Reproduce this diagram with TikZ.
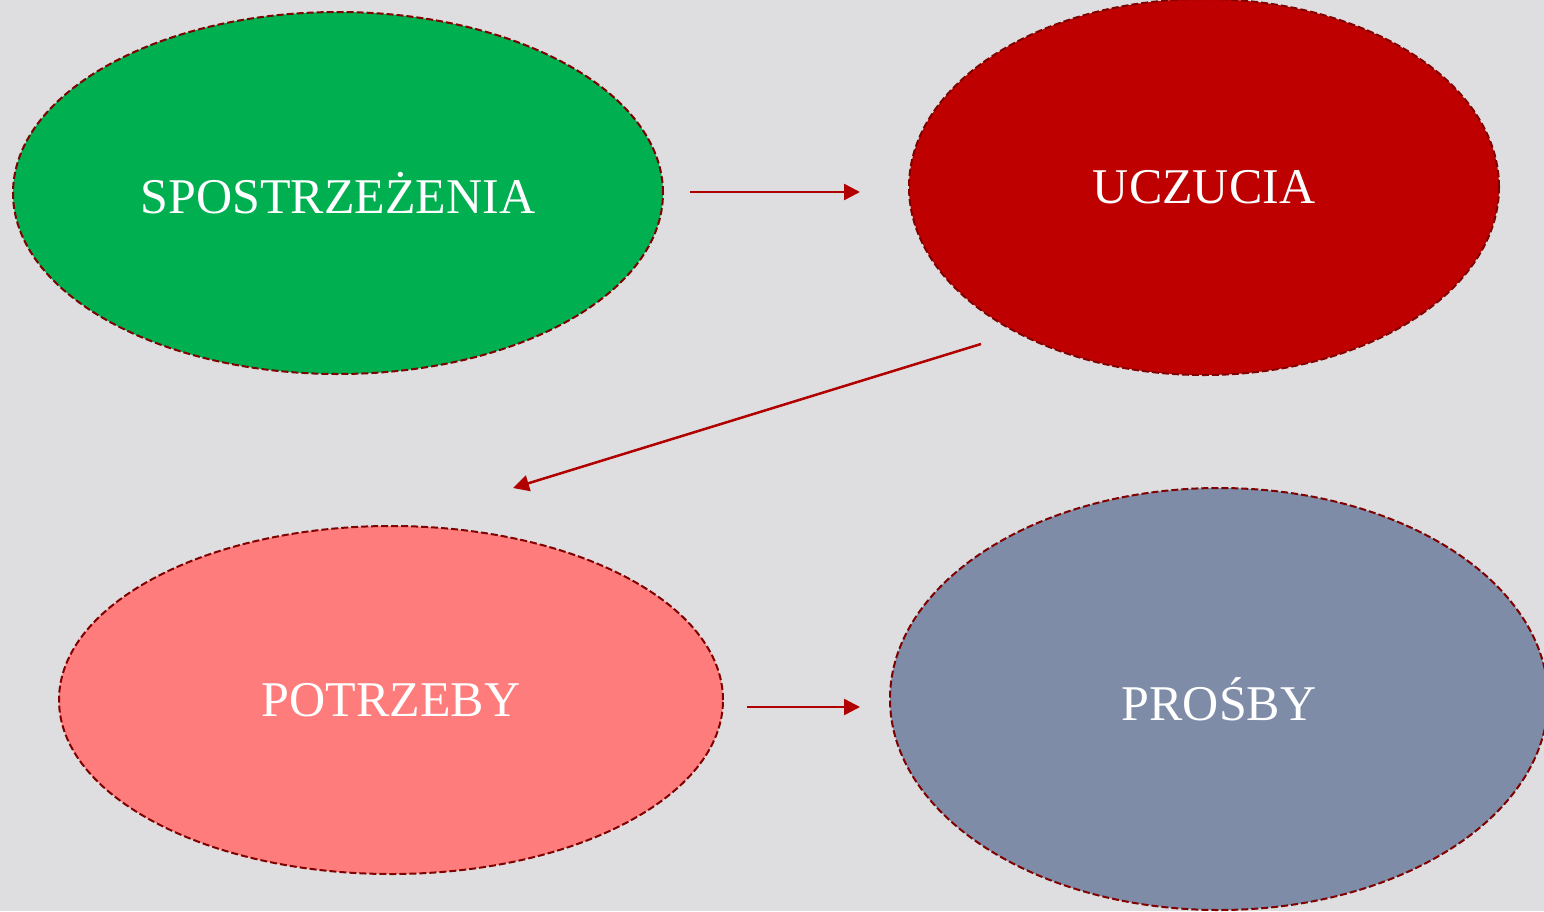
\documentclass[tikz,border=0pt]{standalone}
\usepackage{fontspec}
\setmainfont{Liberation Serif}
\usetikzlibrary{shapes.geometric,arrows.meta}
\definecolor{bg}{HTML}{DEDEE0}
\definecolor{cgreen}{HTML}{00AF50}
\definecolor{cred}{HTML}{BE0000}
\definecolor{cpink}{HTML}{FF7C7C}
\definecolor{cblue}{HTML}{7F8CA8}
\definecolor{cborder}{HTML}{800000}
\definecolor{carrow}{HTML}{B00000}
\tikzset{
  oval/.style={ellipse, draw=cborder, dash pattern=on 7pt off 3pt, line width=2pt, inner sep=0pt,
    text=white, font=\fontsize{50}{54}\selectfont},
  conn/.style={draw=carrow, line width=2.5pt, -{Triangle[length=16pt,width=16pt]}}
}
\begin{document}
\begin{tikzpicture}[x=1pt,y=-1pt]
\fill[bg] (0,0) rectangle (1544,911);
\useasboundingbox (0,0) rectangle (1544,911);
\node[oval, fill=cgreen, minimum width=650pt, minimum height=362pt] (sp) at (338,193) {SPOSTRZEŻENIA};
\node[oval, fill=cred, minimum width=590pt, minimum height=376pt] (uc) at (1204,187) {UCZUCIA};
\node[oval, fill=cpink, minimum width=664pt, minimum height=348pt] (po) at (391,700) {POTRZEBY};
\node[oval, fill=cblue, minimum width=658pt, minimum height=422pt] (pr) at (1219,699) {PROŚBY};
\coordinate (a1s) at (690,192);
\coordinate (a1e) at (860,192);
\coordinate (a2s) at (981,344);
\coordinate (a2e) at (513,488);
\coordinate (a3s) at (747,707);
\coordinate (a3e) at (860,707);
\draw[conn] (a1s) -- (a1e);
\draw[conn] (a2s) -- (a2e);
\draw[conn] (a3s) -- (a3e);
\end{tikzpicture}
\end{document}
